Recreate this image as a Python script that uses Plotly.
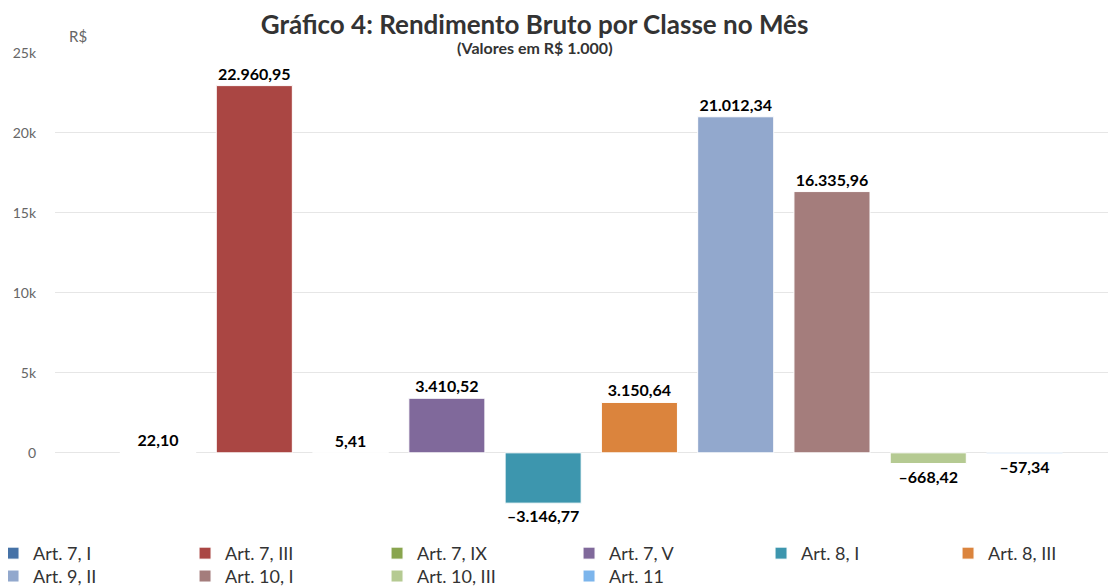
import plotly.graph_objects as go

# Rendimento bruto por classe (R$ 1.000)
classes = ['Art. 7, I', 'Art. 7, III', 'Art. 7, IX', 'Art. 7, V', 'Art. 8, I',
           'Art. 8, III', 'Art. 9, II', 'Art. 10, I', 'Art. 10, III', 'Art. 11']
valores = [22.10, 22960.95, 5.41, 3410.52, -3146.77,
           3150.64, 21012.34, 16335.96, -668.42, -57.34]
cores = ['#4572A7', '#AA4643', '#89A54E', '#80699B', '#3D96AE',
         '#DB843D', '#92A8CD', '#A47D7C', '#B5CA92', '#7CB5EC']

y_ticks = [0, 5000, 10000, 15000, 20000, 25000]
y_labels = ['0', '5k', '10k', '15k', '20k', '25k']

# which legend box each class goes in (row 1 is split so it fits 6 columns)
legend_ids = ['legend'] * 5 + ['legend3'] + ['legend2'] * 4


def fmt_br(v):
    s = f"{abs(v):,.2f}".replace(',', 'X').replace('.', ',').replace('X', '.')
    return ('\u2013' if v < 0 else '') + s


fig = go.Figure()
for nome, val, cor, leg in zip(classes, valores, cores, legend_ids):
    fig.add_trace(go.Bar(
        name=nome, x=[nome], y=[val],
        marker=dict(color=cor, line=dict(color='white', width=1)),
        width=0.79,
        text=[fmt_br(val)], textposition='outside',
        textfont=dict(family='Lato', size=16, color='black', weight='bold'),
        cliponaxis=False,
        legend=leg,
    ))

legend_style = dict(orientation='h', xref='paper', yref='paper',
                    xanchor='left', yanchor='top',
                    entrywidth=147, entrywidthmode='pixels',
                    bgcolor='rgba(0,0,0,0)',
                    font=dict(family='Lato', size=18, color='#333333'),
                    traceorder='normal', itemclick=False)

# the page body adds an 8px margin, so the figure is 8px smaller
fig.update_layout(
    width=1108, height=578,
    margin=dict(l=47, r=0, t=45, b=66, autoexpand=False),
    paper_bgcolor='white', plot_bgcolor='white',
    barmode='overlay',
    showlegend=True,
    font=dict(family='Lato', size=13, color='#333333'),
    title=dict(text='Gráfico 4: Rendimento Bruto por Classe no Mês',
               xref='paper', x=0.452, xanchor='center', y=0.9705, yanchor='middle',
               font=dict(family='Lato', size=26, color='#333333', weight='bold')),
    xaxis=dict(type='category', range=[-1.07, 9.95], showticklabels=False,
               showgrid=False, zeroline=False, showline=False, automargin=False),
    yaxis=dict(range=[-4200, 25000], tickvals=y_ticks, ticktext=y_labels,
               showgrid=True, gridcolor='#e6e6e6', gridwidth=1,
               zeroline=False, showline=False, ticks='', automargin=False,
               ticklabelstandoff=18,
               tickfont=dict(family='Lato', size=14, color='#666666')),
    legend=dict(legend_style, x=-0.0584, y=-0.032),
    legend3=dict(legend_style, x=0.8417, y=-0.032),
    legend2=dict(legend_style, x=-0.0584, y=-0.081),
    annotations=[
        dict(text='<b>(Valores em R$ 1.000)</b>', xref='paper', yref='paper',
             x=0.452, y=1.0, xanchor='center', yanchor='middle', yshift=6,
             showarrow=False, font=dict(family='Lato', size=16, color='#333333')),
        dict(text='R$', xref='paper', yref='paper', x=0.022, y=1.0,
             xanchor='center', yanchor='middle', yshift=17, showarrow=False,
             font=dict(family='Lato', size=15, color='#666666')),
    ],
)

fig.write_html("out.html")
